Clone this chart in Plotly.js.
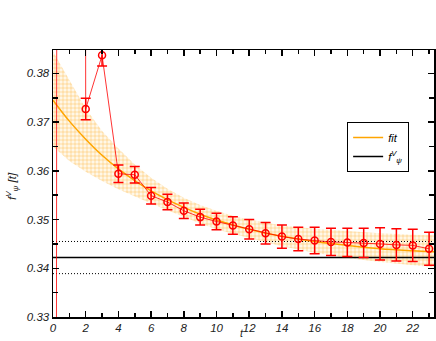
<!DOCTYPE html>
<html>
<head>
<meta charset="utf-8">
<script src="https://cdn.plot.ly/plotly-3.0.1.min.js"></script>
<style>
  html, body { margin: 0; padding: 0; background: #fff; }
  #chart { width: 436px; height: 341px; }
</style>
</head>
<body>
<div id="chart"></div>
<script>
// lattice data
const tData = [0, 1, 2, 3, 4, 5, 6, 7, 8, 9, 10, 11, 12, 13, 14, 15, 16, 17, 18, 19, 20, 21, 22, 23];
const fData = [-0.5, 3.4, 0.3727, 0.3837, 0.3594, 0.3592, 0.3549, 0.3536, 0.3518, 0.3505, 0.3496, 0.3488,
  0.3480, 0.3472, 0.3465, 0.3460, 0.3457, 0.3454, 0.3453, 0.3452, 0.3450, 0.3448, 0.3447, 0.3440];
const fErr = [0, 0, 0.0022, 0.0022, 0.0018, 0.0017, 0.0017, 0.0016, 0.0016, 0.0016, 0.0017, 0.0018,
  0.0020, 0.0022, 0.0024, 0.0024, 0.0027, 0.0028, 0.0029, 0.0030, 0.0033, 0.0033, 0.0033, 0.0034];

// fit curve and its error band
const tFit = [0, 1, 2, 3, 4, 5, 6, 7, 8, 9, 10, 11, 12, 13, 14, 16, 18, 20, 22, 23.3];
const fFit = [0.3745, 0.3702, 0.3665, 0.3632, 0.3604, 0.3580, 0.3559, 0.3541, 0.3525, 0.3511, 0.3499,
  0.3489, 0.3480, 0.3472, 0.3466, 0.3455, 0.3447, 0.3440, 0.3436, 0.3434];
const fUpper = [0.3845, 0.3785, 0.3728, 0.3682, 0.3646, 0.3613, 0.3586, 0.3563, 0.3545, 0.3530, 0.3518,
  0.3508, 0.3500, 0.3494, 0.3488, 0.3481, 0.3476, 0.3472, 0.3469, 0.3468];
const fLower = [0.3650, 0.3620, 0.3598, 0.3579, 0.3562, 0.3547, 0.3533, 0.3519, 0.3505, 0.3492, 0.3480,
  0.3471, 0.3462, 0.3453, 0.3445, 0.3432, 0.3421, 0.3413, 0.3406, 0.3402];

// plateau value
const fPsi = 0.3422;
const fPsiErr = 0.0033;
const tEnds = [0, 23.3];

const fontFamily = 'Liberation Sans, Arial, sans-serif';
const italic = { family: fontFamily, size: 11.5, color: '#222', style: 'italic' };

const traces = [
  {
    x: tFit.concat(tFit.slice().reverse()),
    y: fUpper.concat(fLower.slice().reverse()),
    mode: 'lines',
    line: { width: 0 },
    fill: 'toself',
    fillcolor: 'rgba(255,215,140,0.35)',
    fillpattern: { shape: '+', fgcolor: 'rgba(255,175,40,0.7)', bgcolor: 'rgba(255,238,205,0.45)', size: 4, solidity: 0.25 },
    showlegend: false,
    hoverinfo: 'skip',
  },
  {
    x: tEnds,
    y: [fPsi + fPsiErr, fPsi + fPsiErr],
    mode: 'lines',
    line: { color: '#000', width: 1, dash: '1px,2px' },
    showlegend: false,
  },
  {
    x: tEnds,
    y: [fPsi - fPsiErr, fPsi - fPsiErr],
    mode: 'lines',
    line: { color: '#000', width: 1, dash: '1px,2px' },
    showlegend: false,
  },
  {
    x: tFit,
    y: fFit,
    mode: 'lines',
    name: 'fit',
    line: { color: '#ffa500', width: 1.5, shape: 'spline' },
  },
  {
    x: tEnds,
    y: [fPsi, fPsi],
    mode: 'lines',
    name: 'f<sup>V</sup><sub>ψ</sub>',
    line: { color: '#000', width: 1.5 },
  },
  {
    x: tData,
    y: fData,
    mode: 'lines+markers',
    line: { color: 'rgba(255,0,0,0.8)', width: 1 },
    marker: { symbol: 'circle-open', size: 7, color: '#ff0000', line: { width: 1.5 } },
    error_y: { type: 'data', array: fErr, visible: true, color: '#ff0000', thickness: 1.5, width: 5 },
    showlegend: false,
  },
];

const axisBase = {
  showgrid: false,
  zeroline: false,
  showline: true,
  linecolor: '#000',
  linewidth: 1.5,
  mirror: 'ticks',
  ticks: 'inside',
  ticklen: 6,
  tickwidth: 1.5,
  tickcolor: '#000',
  tickfont: italic,
};

const layout = {
  width: 436,
  height: 341,
  margin: { l: 53, r: 2, t: 50, b: 24 },
  paper_bgcolor: '#fff',
  plot_bgcolor: '#fff',
  showlegend: true,
  legend: {
    x: 0.772, y: 0.73, xanchor: 'left', yanchor: 'top',
    bgcolor: '#fff', bordercolor: '#000', borderwidth: 1,
    font: { family: fontFamily, size: 11, color: '#000', style: 'italic' },
    itemwidth: 30,
  },
  xaxis: Object.assign({}, axisBase, {
    range: [0, 23.3],
    dtick: 2,
    tick0: 0,
    minor: { dtick: 1, ticks: 'inside', ticklen: 4, tickwidth: 1.5, tickcolor: '#000' },
  }),
  yaxis: Object.assign({}, axisBase, {
    range: [0.33, 0.3848],
    dtick: 0.01,
    tick0: 0.33,
    tickformat: '.2f',
    minor: { dtick: 0.005, ticks: 'inside', ticklen: 5, tickwidth: 1.5, tickcolor: '#000' },
  }),
  annotations: [
    {
      text: 't', xref: 'paper', yref: 'paper', x: 0.497, y: -0.0899,
      xanchor: 'center', yanchor: 'bottom', showarrow: false,
      font: { family: fontFamily, size: 10.5, color: '#222', style: 'italic' },
    },
    {
      text: 'f<sup>V</sup><sub>ψ</sub> [t]', xref: 'paper', yref: 'paper', x: -0.108, y: 0.49,
      xanchor: 'center', yanchor: 'middle', textangle: -90, showarrow: false, font: italic,
    },
  ],
};

Plotly.newPlot('chart', traces, layout, { staticPlot: true });
</script>
</body>
</html>
